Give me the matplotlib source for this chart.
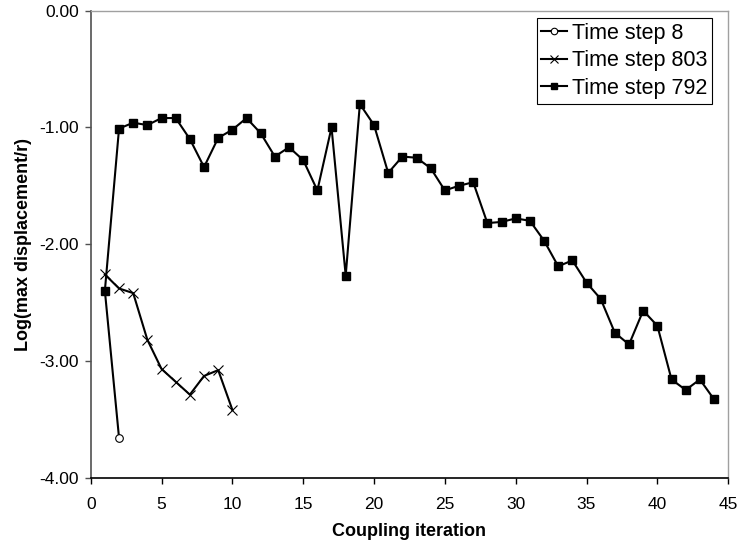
import matplotlib
matplotlib.use("Agg")
import matplotlib.pyplot as plt

plt.rcParams['font.family'] = ['Liberation Sans', 'DejaVu Sans']
plt.rcParams['axes.unicode_minus'] = False

# Data
iter_ts8 = [1, 2]
vals_ts8 = [-2.40, -3.66]

iter_ts803 = [1, 2, 3, 4, 5, 6, 7, 8, 9, 10]
vals_ts803 = [-2.26, -2.38, -2.42, -2.82, -3.07, -3.18, -3.29, -3.13, -3.08, -3.42]

iter_ts792 = list(range(1, 45))
vals_ts792 = [-2.40, -1.01, -0.96, -0.98, -0.92, -0.92, -1.10, -1.34, -1.09, -1.02,
              -0.92, -1.05, -1.25, -1.17, -1.28, -1.54, -1.00, -2.27, -0.80, -0.98,
              -1.39, -1.25, -1.26, -1.35, -1.54, -1.50, -1.47, -1.82, -1.81, -1.78,
              -1.80, -1.97, -2.19, -2.14, -2.33, -2.47, -2.76, -2.86, -2.57, -2.70,
              -3.16, -3.25, -3.16, -3.33]

x_ticks = [0, 5, 10, 15, 20, 25, 30, 35, 40, 45]
y_ticks = [0.0, -1.0, -2.0, -3.0, -4.0]
y_tick_labels = ["0.00", "-1.00", "-2.00", "-3.00", "-4.00"]

fig = plt.figure(figsize=(7.39, 5.48), dpi=100)
ax = fig.add_axes([90.7/739, 1 - 477.5/548, 637.5/739, 466.8/548])

ax.plot(iter_ts8, vals_ts8, color='black', lw=1.5, marker='o', ms=5.5,
        mfc='white', mec='black', mew=0.8, label='Time step 8', zorder=3)
ax.plot(iter_ts803, vals_ts803, color='black', lw=1.5, marker='x', ms=6.5,
        mec='black', mew=0.8, label='Time step 803', zorder=4)
ax.plot(iter_ts792, vals_ts792, color='black', lw=1.5, marker='s', ms=5.5,
        mfc='black', mec='black', label='Time step 792', zorder=5)

ax.set_xlim(0, 45)
ax.set_ylim(-4, 0)
ax.set_xticks(x_ticks)
ax.set_xticklabels([str(t) for t in x_ticks])
ax.set_yticks(y_ticks)
ax.set_yticklabels(y_tick_labels)

ax.tick_params(axis='both', labelsize=12.5, direction='out', length=4.5, width=1)
ax.tick_params(axis='y', colors='#505050', labelcolor='black', pad=4)
ax.tick_params(axis='x', colors='black', labelcolor='black', pad=9.5)

ax.spines['left'].set_color('#505050')
ax.spines['left'].set_linewidth(1.2)
ax.spines['bottom'].set_color('black')
ax.spines['bottom'].set_linewidth(1.2)
ax.spines['top'].set_color('#a0a0a0')
ax.spines['right'].set_color('#a0a0a0')
ax.spines['top'].set_linewidth(1.0)
ax.spines['right'].set_linewidth(1.0)

ax.set_xlabel('Coupling iteration', fontsize=13, fontweight='bold', labelpad=8)
ax.set_ylabel('Log(max displacement/r)', fontsize=13, fontweight='bold', labelpad=5)

leg = ax.legend(loc='upper right', bbox_to_anchor=(0.974, 0.984), fontsize=15.5,
                frameon=True, fancybox=False, edgecolor='black', framealpha=1,
                handlelength=1.2, handletextpad=0.2, borderpad=0.22,
                labelspacing=0.3, borderaxespad=0, markerscale=0.85)
leg.get_frame().set_linewidth(0.8)

fig.savefig('out.png', dpi=100)
